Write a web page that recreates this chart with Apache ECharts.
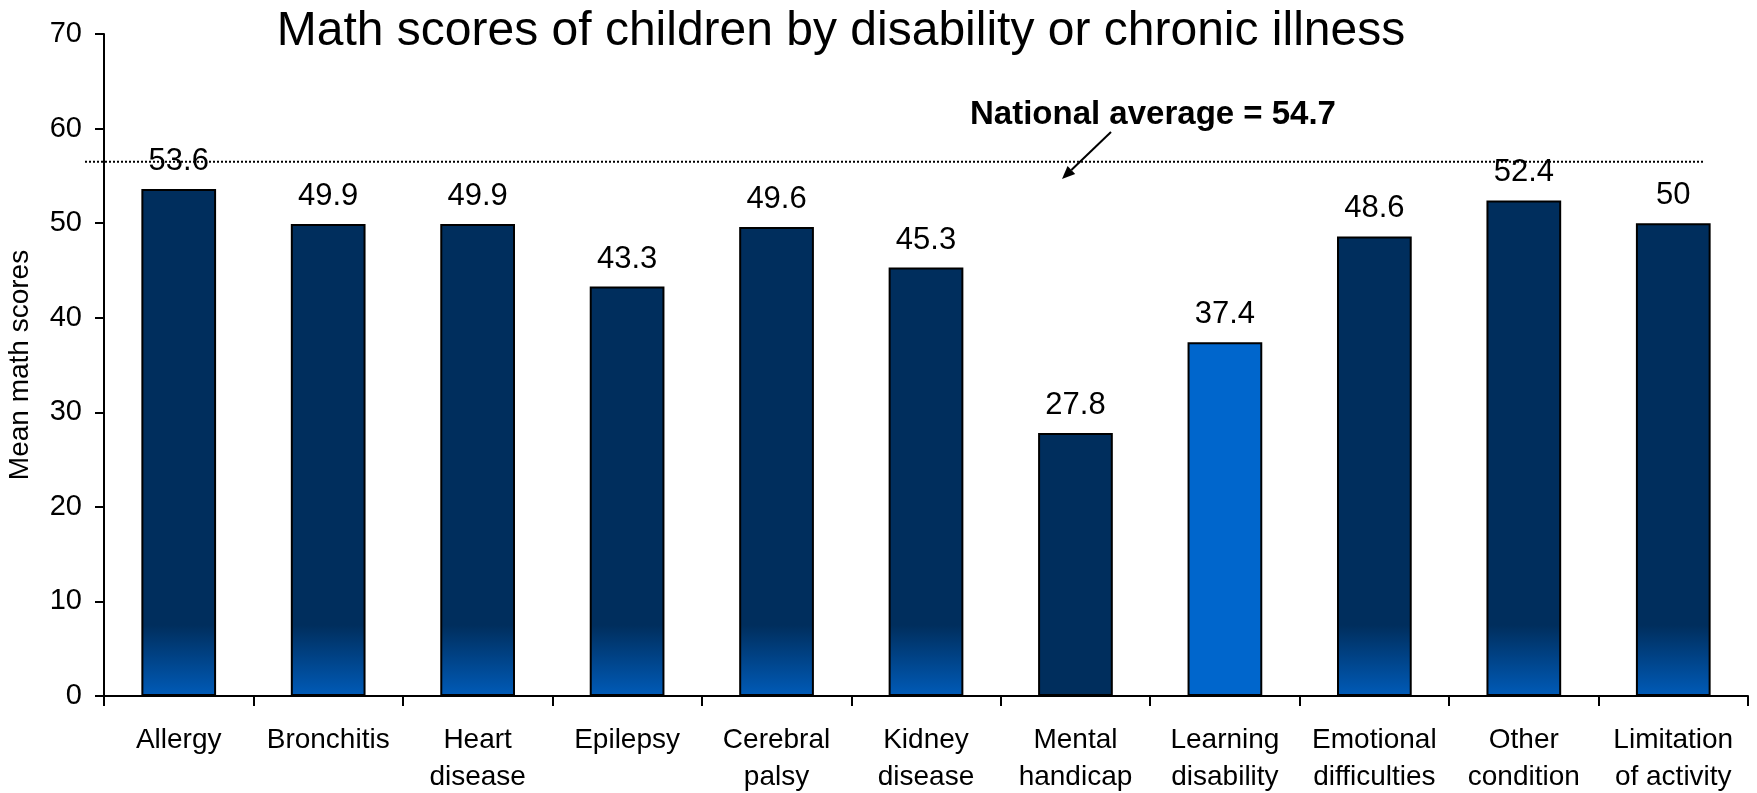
<!DOCTYPE html>
<html><head><meta charset="utf-8">
<script src="https://cdn.jsdelivr.net/npm/echarts@6/dist/echarts.min.js"></script>
<style>html,body{margin:0;padding:0;background:#fff}#c{width:1757px;height:793px}</style>
</head><body><div id="c"></div>
<script>
const categories = ['Allergy','Bronchitis','Heart\ndisease','Epilepsy','Cerebral\npalsy','Kidney\ndisease','Mental\nhandicap','Learning\ndisability','Emotional\ndifficulties','Other\ncondition','Limitation\nof activity'];
const scores = [53.6, 49.9, 49.9, 43.3, 49.6, 45.3, 27.8, 37.4, 48.6, 52.4, 50];
const solidDarkIndex = 6;
const highlightIndex = 7;
const yMin = 0, yMax = 70, yInterval = 10;
const titleText = 'Math scores of children by disability or chronic illness';
const yAxisTitle = 'Mean math scores';
const nationalAverageLabel = 'National average = 54.7';
const nationalLineLevel = 56.5;

const FONT = '"Liberation Sans", Arial, sans-serif';
const NAVY = '#002E5D', BOTTOM = '#005BB8', BRIGHT = '#0066CC';

function barColor(v, i) {
  if (i === highlightIndex) return BRIGHT;
  if (i === solidDarkIndex) return NAVY;
  const s = Math.max(0, 1 - 7.5 / v);
  return {type:'linear', x:0, y:0, x2:0, y2:1, colorStops:[
    {offset:0, color:NAVY}, {offset:s, color:NAVY}, {offset:1, color:BOTTOM}]};
}

const chart = echarts.init(document.getElementById('c'), null, {renderer:'canvas'});
chart.setOption({
  animation: false,
  backgroundColor: '#fff',
  title: {text: titleText, left: 836, textAlign: 'center', top: 3,
    textStyle: {fontFamily: FONT, fontSize: 48, fontWeight: 'normal', color: '#000'}},
  grid: {left: 104, right: 9, top: 34, bottom: 97, containLabel: false, outerBoundsMode: 'none'},
  xAxis: {type: 'category', data: categories,
    axisLine: {lineStyle: {color: '#000', width: 2}},
    axisTick: {show: true, length: 10, alignWithLabel: false, lineStyle: {color: '#000', width: 2}},
    axisLabel: {interval: 0, margin: 26, fontFamily: FONT, fontSize: 28, color: '#000', lineHeight: 37}},
  yAxis: {type: 'value', min: yMin, max: yMax, interval: yInterval,
    name: yAxisTitle, nameLocation: 'middle', nameGap: 70,
    nameTextStyle: {fontFamily: FONT, fontSize: 28, color: '#000'},
    splitLine: {show: false},
    axisLine: {show: true, lineStyle: {color: '#000', width: 2}},
    axisTick: {show: true, length: 9, lineStyle: {color: '#000', width: 2}},
    axisLabel: {margin: 22, fontFamily: FONT, fontSize: 29, color: '#000'}},
  series: [{
    type: 'bar', barWidth: '50%',
    data: scores.map((v, i) => ({value: v, itemStyle: {color: barColor(v, i)}})),
    itemStyle: {borderColor: '#000', borderWidth: 2},
    label: {show: true, position: 'top', distance: 12, fontFamily: FONT, fontSize: 31, color: '#000',
      formatter: p => String(p.value)}
  }]
});

const yLine = chart.convertToPixel({yAxisIndex: 0}, nationalLineLevel);
const tip = [1062, 179], tail = [1111, 132];
const dx = tip[0]-tail[0], dy = tip[1]-tail[1], L = Math.hypot(dx, dy);
const ux = dx/L, uy = dy/L, hl = 13, hw = 5.5;
const bx = tip[0]-ux*hl, by = tip[1]-uy*hl;
chart.setOption({
  graphic: [
    {type: 'line', shape: {x1: 85, y1: yLine, x2: 1705, y2: yLine},
      style: {stroke: '#000', lineWidth: 2, lineDash: [2, 2]}, z: 5},
    {type: 'text', x: 1153, y: 115, style: {text: nationalAverageLabel, font: 'bold 33px ' + FONT,
      fill: '#000', textAlign: 'center', textVerticalAlign: 'middle'}, z: 6},
    {type: 'line', shape: {x1: tail[0], y1: tail[1], x2: bx, y2: by},
      style: {stroke: '#000', lineWidth: 2}, z: 6},
    {type: 'polygon', shape: {points: [[tip[0], tip[1]], [bx - uy*hw, by + ux*hw], [bx + uy*hw, by - ux*hw]]},
      style: {fill: '#000'}, z: 6}
  ]
});
</script></body></html>
